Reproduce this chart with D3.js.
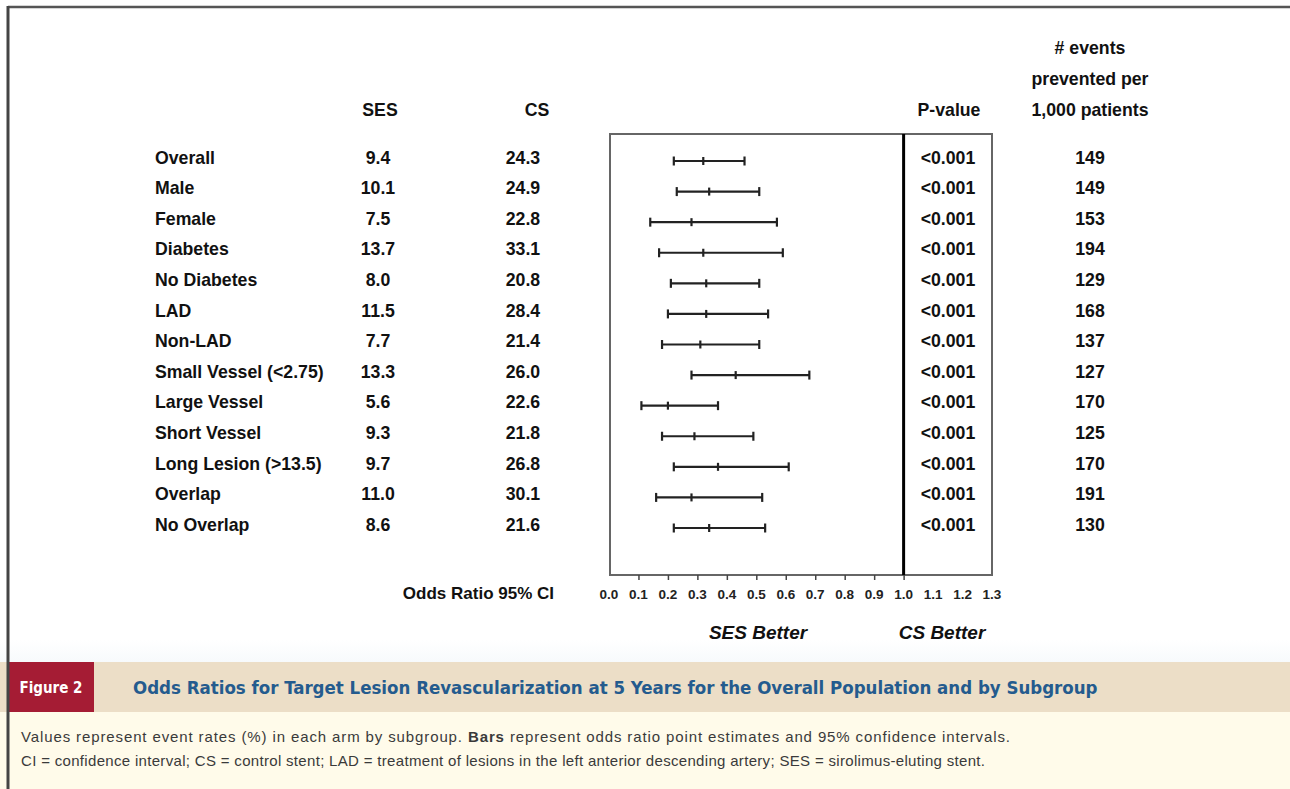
<!DOCTYPE html>
<html><head><meta charset="utf-8">
<script src="https://cdn.jsdelivr.net/npm/d3@7/dist/d3.min.js"></script>
<style>
html,body{margin:0;padding:0;background:#fff;}
svg{display:block;font-family:"Liberation Sans",Arial,sans-serif;}
</style></head>
<body><svg id="chart" width="1290" height="789"></svg>
<script>
const categories = ["Overall","Male","Female","Diabetes","No Diabetes","LAD","Non-LAD","Small Vessel (<2.75)","Large Vessel","Short Vessel","Long Lesion (>13.5)","Overlap","No Overlap"];
const sesRates = ["9.4","10.1","7.5","13.7","8.0","11.5","7.7","13.3","5.6","9.3","9.7","11.0","8.6"];
const csRates = ["24.3","24.9","22.8","33.1","20.8","28.4","21.4","26.0","22.6","21.8","26.8","30.1","21.6"];
const pValues = ["<0.001","<0.001","<0.001","<0.001","<0.001","<0.001","<0.001","<0.001","<0.001","<0.001","<0.001","<0.001","<0.001"];
const prevented = [149,149,153,194,129,168,137,127,170,125,170,191,130];
const oddsRatio = [0.32,0.34,0.28,0.32,0.33,0.33,0.31,0.43,0.20,0.29,0.37,0.28,0.34];
const ciLow = [0.22,0.23,0.14,0.17,0.21,0.20,0.18,0.28,0.11,0.18,0.22,0.16,0.22];
const ciHigh = [0.46,0.51,0.57,0.59,0.51,0.54,0.51,0.68,0.37,0.49,0.61,0.52,0.53];
const tickValues = [0.0,0.1,0.2,0.3,0.4,0.5,0.6,0.7,0.8,0.9,1.0,1.1,1.2,1.3];
const tickMarks = [0.1,0.2,0.3,0.4,0.5,0.6,0.7,0.8,0.9,1.0];
const headerLines = ["# events","prevented per","1,000 patients"];

const svg = d3.select("#chart");
const ink = "#111";
const condensed = "'DejaVu Sans Condensed','Liberation Sans Narrow',sans-serif";

// caption area backgrounds
const grad = svg.append("defs").append("linearGradient").attr("id","fade").attr("x1",0).attr("x2",0).attr("y1",0).attr("y2",1);
grad.append("stop").attr("offset","0%").attr("stop-color","#ffffff");
grad.append("stop").attr("offset","100%").attr("stop-color","#f7fafc");
svg.append("rect").attr("x",0).attr("y",640).attr("width",1290).attr("height",22).attr("fill","url(#fade)");
svg.append("rect").attr("x",0).attr("y",662).attr("width",1290).attr("height",50).attr("fill","#ecdec7");
svg.append("rect").attr("x",0).attr("y",712).attr("width",1290).attr("height",77).attr("fill","#fffbea");
svg.append("rect").attr("x",8).attr("y",662).attr("width",86).attr("height",50).attr("fill","#a51c34");
svg.append("text").attr("x",51).attr("y",688).attr("dy","0.35em").attr("text-anchor","middle")
  .attr("fill","#fff").attr("font-weight","bold").attr("font-size",15)
  .attr("font-family",condensed).text("Figure 2");
svg.append("text").attr("x",133).attr("y",688).attr("dy","0.35em")
  .attr("fill","#245b8e").attr("font-weight","bold").attr("font-size",18.5)
  .attr("font-family",condensed)
  .text("Odds Ratios for Target Lesion Revascularization at 5 Years for the Overall Population and by Subgroup");
const cap1 = svg.append("text").attr("x",21).attr("y",737).attr("dy","0.35em").attr("fill","#3a3a3a").attr("font-size",15)
  .attr("textLength",989).attr("lengthAdjust","spacing");
cap1.append("tspan").text("Values represent event rates (%) in each arm by subgroup. ");
cap1.append("tspan").attr("font-weight","bold").text("Bars");
cap1.append("tspan").text(" represent odds ratio point estimates and 95% confidence intervals.");
svg.append("text").attr("x",21).attr("y",761).attr("dy","0.35em").attr("fill","#3a3a3a").attr("font-size",15)
  .attr("textLength",964).attr("lengthAdjust","spacing")
  .text("CI = confidence interval; CS = control stent; LAD = treatment of lesions in the left anterior descending artery; SES = sirolimus-eluting stent.");

// outer frame
svg.append("line").attr("x1",8).attr("x2",1290).attr("y1",7).attr("y2",7).attr("stroke","#555").attr("stroke-width",2.5);
svg.append("line").attr("x1",8).attr("x2",8).attr("y1",6).attr("y2",789).attr("stroke","#444").attr("stroke-width",3);

// scales
const x = d3.scaleLinear().domain([0,1.3]).range([609,992]);
const y = d3.scalePoint().domain(categories).range([161,528]);
const textOff = -3.5;
const boxTop = 134, boxBottom = 575;

// plot box
svg.append("rect").attr("x",x(0)+1).attr("y",boxTop).attr("width",x(1.3)-x(0)-1).attr("height",boxBottom-boxTop)
  .attr("fill","none").attr("stroke","#666").attr("stroke-width",2);
svg.append("line").attr("x1",x(1)).attr("x2",x(1)).attr("y1",boxTop).attr("y2",boxBottom).attr("stroke","#000").attr("stroke-width",3);

// axis
const axis = d3.axisBottom(x).tickValues(tickMarks).tickSize(5).tickFormat("");
const ag = svg.append("g").attr("transform",`translate(0,${boxBottom})`).call(axis);
ag.select(".domain").remove();
ag.selectAll(".tick line").attr("stroke","#444").attr("stroke-width",1.5);
svg.append("g").selectAll("text").data(tickValues).join("text")
  .attr("x",d=>x(d)).attr("y",594).attr("dy","0.35em").attr("text-anchor","middle")
  .attr("font-size",13.5).attr("font-weight","bold").attr("fill","#222").text(d=>d.toFixed(1));
svg.append("text").attr("x",554).attr("y",593).attr("dy","0.35em").attr("text-anchor","end")
  .attr("font-size",17).attr("font-weight","bold").attr("fill",ink).text("Odds Ratio 95% CI");
svg.append("text").attr("x",758).attr("y",632).attr("dy","0.35em").attr("text-anchor","middle")
  .attr("font-size",19).attr("font-weight","bold").attr("font-style","italic").attr("fill",ink).text("SES Better");
svg.append("text").attr("x",942).attr("y",632).attr("dy","0.35em").attr("text-anchor","middle")
  .attr("font-size",19).attr("font-weight","bold").attr("font-style","italic").attr("fill",ink).text("CS Better");

// CI bars
const rows = categories.map((c,i)=>({c,i}));
const bars = svg.append("g").attr("stroke","#222").attr("stroke-width",2.2);
bars.selectAll("line.ci").data(rows).join("line").attr("class","ci")
  .attr("x1",d=>x(ciLow[d.i])).attr("x2",d=>x(ciHigh[d.i])).attr("y1",d=>y(d.c)).attr("y2",d=>y(d.c));
bars.selectAll("line.lo").data(rows).join("line").attr("class","lo")
  .attr("x1",d=>x(ciLow[d.i])).attr("x2",d=>x(ciLow[d.i])).attr("y1",d=>y(d.c)-4.5).attr("y2",d=>y(d.c)+4.5);
bars.selectAll("line.hi").data(rows).join("line").attr("class","hi")
  .attr("x1",d=>x(ciHigh[d.i])).attr("x2",d=>x(ciHigh[d.i])).attr("y1",d=>y(d.c)-4.5).attr("y2",d=>y(d.c)+4.5);
bars.selectAll("line.pt").data(rows).join("line").attr("class","pt")
  .attr("x1",d=>x(oddsRatio[d.i])).attr("x2",d=>x(oddsRatio[d.i])).attr("y1",d=>y(d.c)-4).attr("y2",d=>y(d.c)+4);

// table text
const fs = 17.7;
function col(values, xpos, anchor){
  svg.append("g").selectAll("text").data(rows).join("text")
    .attr("x",xpos).attr("y",d=>y(d.c)+textOff).attr("dy","0.35em").attr("text-anchor",anchor)
    .attr("font-size",fs).attr("font-weight","bold").attr("fill",ink).text(d=>values[d.i]);
}
col(categories,155,"start");
col(sesRates,378,"middle");
col(csRates,523,"middle");
col(pValues,948,"middle");
col(prevented,1090,"middle");

// headers
function header(t,xpos,ypos){
  svg.append("text").attr("x",xpos).attr("y",ypos).attr("dy","0.35em").attr("text-anchor","middle")
    .attr("font-size",fs).attr("font-weight","bold").attr("fill",ink).text(t);
}
header("SES",380,110);
header("CS",537,110);
header("P-value",949,110);
svg.append("g").selectAll("text").data(headerLines).join("text")
  .attr("x",1090).attr("y",(d,i)=>48+i*31).attr("dy","0.35em").attr("text-anchor","middle")
  .attr("font-size",fs).attr("font-weight","bold").attr("fill",ink).text(d=>d);
</script></body></html>
